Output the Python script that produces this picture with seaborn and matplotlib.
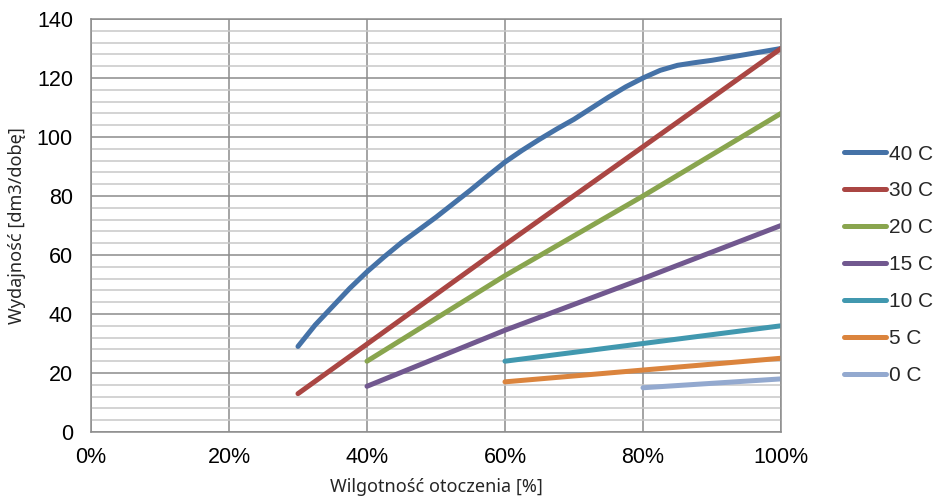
import numpy as np
import pandas as pd
import matplotlib.pyplot as plt
from matplotlib.ticker import MultipleLocator, PercentFormatter
import seaborn as sns

# wilgotność [%] i wydajność [dm3/dobę] dla każdej temperatury
h_40 = [30, 32.5, 35, 37.5, 40, 42.5, 45, 47.5, 50, 52.5, 55, 57.5, 60, 62.5,
        65, 67.5, 70, 75, 77.5, 80, 82.5, 85, 87.5, 90, 95, 100]
v_40 = [29, 36.3, 42.5, 48.7, 54.3, 59.4, 64.2, 68.5, 72.8, 77.4, 82, 86.8,
        91.5, 95.5, 99.2, 102.7, 106, 113.5, 117, 120, 122.6, 124.3, 125.2,
        126, 128, 130]
h_30 = [30, 40, 60, 80, 100]
v_30 = [13, 29.8, 63.5, 96.7, 130]
h_20 = [40, 60, 80, 100]
v_20 = [24, 53, 80, 108]
h_15 = [40, 60, 80, 100]
v_15 = [15.5, 34.5, 52, 70]
h_10 = [60, 80, 100]
v_10 = [24, 30, 36]
h_5 = [60, 80, 100]
v_5 = [17, 21, 25]
h_0 = [80, 100]
v_0 = [15, 18]

labels = ["40 C", "30 C", "20 C", "15 C", "10 C", "5 C", "0 C"]
colors = ["#4572A7", "#AA4643", "#89A54E", "#71588F", "#4198AF", "#DB843D", "#93A9CF"]

series = [(h_40, v_40), (h_30, v_30), (h_20, v_20), (h_15, v_15),
          (h_10, v_10), (h_5, v_5), (h_0, v_0)]
df = pd.concat([
    pd.DataFrame({"h": h, "v": v, "T": lab})
    for (h, v), lab in zip(series, labels)
], ignore_index=True)

sns.set_theme(style="white")
plt.rcParams["font.family"] = ["Liberation Sans", "DejaVu Sans"]

fig = plt.figure(figsize=(9.38, 5), dpi=100)
ax = fig.add_axes([0.097, 0.136, 0.7356, 0.826])

sns.lineplot(data=df, x="h", y="v", hue="T", hue_order=labels,
             palette=dict(zip(labels, colors)), linewidth=3.6,
             sort=False, estimator=None, ax=ax, legend=True,
             solid_capstyle="round", solid_joinstyle="round")

ax.set_xlim(0, 100)
ax.set_ylim(0, 140)
ax.xaxis.set_major_locator(MultipleLocator(20))
ax.xaxis.set_major_formatter(PercentFormatter(decimals=0))
ax.yaxis.set_major_locator(MultipleLocator(20))
ax.yaxis.set_minor_locator(MultipleLocator(4))

ax.grid(which="major", axis="both", color="#8c8c8c", linewidth=1.1)
ax.grid(which="minor", axis="y", color="#c8c8c8", linewidth=1.1)
ax.set_axisbelow(True)
for s in ax.spines.values():
    s.set_color("#8c8c8c")
    s.set_linewidth(1.1)

ax.tick_params(axis="both", which="both", length=0, labelsize=15.5, colors="black")
ax.tick_params(axis="y", pad=13)
ax.tick_params(axis="x", pad=11)

ax.set_xlabel("Wilgotność otoczenia [%]", fontsize=13, family=["Noto Sans", "DejaVu Sans"], labelpad=7)
ax.set_ylabel("Wydajność [dm3/dobę]", fontsize=13, family=["Noto Sans", "DejaVu Sans"], labelpad=8)

leg = ax.legend(loc="upper left", bbox_to_anchor=(0.900, 0.711), bbox_transform=fig.transFigure,
                frameon=False, fontsize=15, handlelength=2.0, handletextpad=0.15,
                labelspacing=0.86, borderaxespad=0, borderpad=0)
for line in leg.get_lines():
    line.set_linewidth(3.6)

fig.savefig("out.png", dpi=100)
